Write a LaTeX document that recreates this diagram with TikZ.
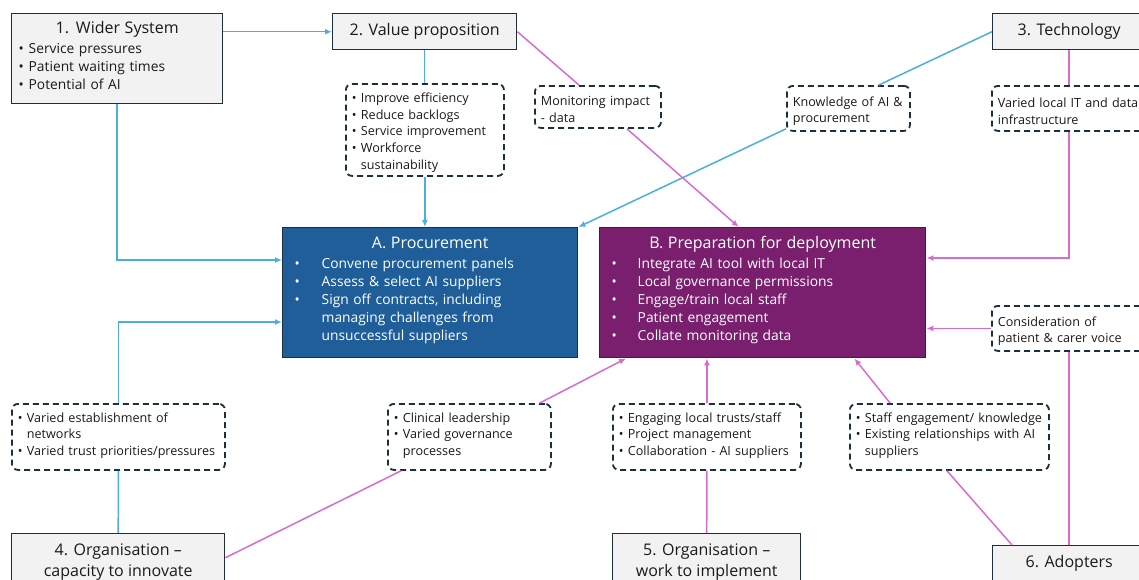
\documentclass[tikz,border=0pt]{standalone}
\usepackage{fontspec}
\setmainfont{Open Sans}
\usetikzlibrary{arrows.meta}

\definecolor{boxline}{HTML}{1B2F3E}
\definecolor{boxgray}{HTML}{F2F2F2}
\definecolor{procblue}{HTML}{1F5E99}
\definecolor{prepplum}{HTML}{7A1F6E}
\definecolor{skyline}{HTML}{4BAEE2}
\definecolor{pinkline}{HTML}{D86BD3}
\definecolor{inktext}{HTML}{1A1A1A}

\newcommand{\titlesize}{\fontsize{16}{20}\selectfont}
\newcommand{\bodysize}{\fontsize{13.8}{18}\selectfont}
\newcommand{\notesize}{\fontsize{12.6}{16.7}\selectfont}
% bullet in a fixed-width column, and a line that hangs under it
\newcommand{\bpoint}[2]{\makebox[#1][l]{\textbullet}#2}
\newcommand{\bcont}[2]{\hspace*{#1}#2}

\begin{document}
\begin{tikzpicture}[x=1pt,y=-1pt,
    sysbox/.style={draw=boxline,line width=1.4pt,fill=boxgray,text=inktext,
      anchor=north west,inner xsep=7pt,inner ysep=0pt},
    notebox/.style={draw=boxline,line width=1.8pt,dash pattern=on 6pt off 4pt,
      rounded corners=6pt,fill=white,text=inktext,anchor=north west,
      inner xsep=6pt,inner ysep=0pt,font=\notesize,align=left,text height=15pt},
    lownote/.style={notebox,minimum height=66pt,text height=7pt},
    stagebox/.style={draw=boxline,line width=1.4pt,text=white,font=\bodysize,
      align=left,anchor=north west,inner xsep=12pt,inner ysep=0pt,text height=6pt},
    blueflow/.style={skyline,line width=1.5pt},
    pinkflow/.style={pinkline,line width=1.5pt},
    flowtip/.style={-{Latex[length=7pt,width=6pt]}}]
    \useasboundingbox (0,0) rectangle (1139,579);
    % Factor boxes
    \node[sysbox,font=\bodysize,align=left,text height=6pt,minimum width=211pt,minimum height=90pt,text width=197pt] (wider) at (11,13)
        {\makebox[\hsize]{\titlesize 1. Wider System}\\[2pt]
         \bpoint{10pt}{Service pressures}\\
         \bpoint{10pt}{Patient waiting times}\\
         \bpoint{10pt}{Potential of AI}};
    \node[sysbox,font=\titlesize,minimum width=184pt,minimum height=36pt,align=center] (valprop) at (332,13)
        {2. Value proposition};
    \node[sysbox,font=\titlesize,minimum width=153pt,minimum height=36pt,align=center] (tech) at (992,13)
        {3. Technology};
    \node[sysbox,font=\fontsize{16}{21}\selectfont,minimum width=213pt,minimum height=56pt,align=center] (org4) at (11,533)
        {4. Organisation --\\capacity to innovate};
    \node[sysbox,font=\fontsize{16}{21}\selectfont,minimum width=188pt,minimum height=56pt,align=center] (org5) at (612,533)
        {5. Organisation --\\work to implement};
    \node[sysbox,font=\titlesize,minimum width=153pt,minimum height=36pt,align=center] (adopters) at (992,545)
        {6. Adopters};
    % Stages
    \node[stagebox,fill=procblue,minimum width=295pt,minimum height=130pt,text width=271pt] (procA) at (282,227)
        {\makebox[\hsize]{\titlesize A. Procurement}\\[2pt]
         \bpoint{27pt}{Convene procurement panels}\\
         \bpoint{27pt}{Assess \& select AI suppliers}\\
         \bpoint{27pt}{Sign off contracts, including}\\
         \bcont{27pt}{managing challenges from}\\
         \bcont{27pt}{unsuccessful suppliers}};
    \node[stagebox,fill=prepplum,minimum width=326pt,minimum height=130pt,text width=302pt] (procB) at (599,227)
        {\makebox[\hsize]{\titlesize B. Preparation for deployment}\\[2pt]
         \bpoint{26pt}{Integrate AI tool with local IT}\\
         \bpoint{26pt}{Local governance permissions}\\
         \bpoint{26pt}{Engage/train local staff}\\
         \bpoint{26pt}{Patient engagement}\\
         \bpoint{26pt}{Collate monitoring data}};
    % Notes on the links
    \node[notebox,minimum width=158pt,minimum height=92pt,text width=146pt] (vpnotes) at (345,83)
        {\bpoint{9pt}{Improve efficiency}\\
         \bpoint{9pt}{Reduce backlogs}\\
         \bpoint{9pt}{Service improvement}\\
         \bpoint{9pt}{Workforce}\\
         \bcont{9pt}{sustainability}};
    \node[notebox,minimum width=126pt,minimum height=42pt,text width=114pt] (monitor) at (534,85)
        {Monitoring impact\\- data};
    \node[notebox,minimum width=123pt,minimum height=45pt,text width=111pt] (knowledge) at (786,85)
        {Knowledge of AI \&\\procurement};
    \node[notebox,minimum width=154pt,minimum height=45pt,text width=142pt] (itinfra) at (991,85)
        {Varied local IT and data\\infrastructure};
    \node[notebox,minimum width=154pt,minimum height=45pt,text width=142pt] (patient) at (991,305)
        {Consideration of\\patient \& carer voice};
    \node[lownote,minimum width=213pt,text width=201pt] (establish) at (11,403)
        {\bpoint{9pt}{Varied establishment of}\\
         \bcont{9pt}{networks}\\
         \bpoint{9pt}{Varied trust priorities/pressures}};
    \node[lownote,minimum width=163pt,text width=151pt] (clinical) at (387,403)
        {\bpoint{9pt}{Clinical leadership}\\
         \bpoint{9pt}{Varied governance}\\
         \bcont{9pt}{processes}};
    \node[lownote,minimum width=188pt,text width=176pt] (engage) at (612,403)
        {\bpoint{9pt}{Engaging local trusts/staff}\\
         \bpoint{9pt}{Project management}\\
         \bpoint{9pt}{Collaboration - AI suppliers}};
    \node[lownote,minimum width=199pt,text width=187pt] (staff) at (849,403)
        {\bpoint{9pt}{Staff engagement/ knowledge}\\
         \bpoint{9pt}{Existing relationships with AI}\\
         \bcont{9pt}{suppliers}};
    % Links into procurement
    \draw[blueflow,flowtip] (wider.east |- valprop.west) -- (valprop.west);
    \draw[blueflow,flowtip] (wider.south) |- ([yshift=-33pt]procA.north west);
    \draw[blueflow] (valprop.south) -- (valprop.south |- vpnotes.north);
    \draw[blueflow,flowtip] (vpnotes.south) -- (vpnotes.south |- procA.north);
    \draw[blueflow] (tech.west) -- ([xshift=-32pt]knowledge.north east);
    \draw[blueflow,flowtip] ([yshift=3pt]knowledge.south west) -- (procA.north east);
    \draw[blueflow] (org4.north) -- (establish.south);
    \draw[blueflow,flowtip] (establish.north) |- ([yshift=-95pt]procA.north west);
    % Links into preparation
    \draw[pinkflow] (valprop.east) -- ([xshift=-19pt]monitor.north);
    \draw[pinkflow,flowtip] ([xshift=29pt]monitor.south) -- ([xshift=-24pt]procB.north);
    \draw[pinkflow] (tech.south) -- (tech.south |- itinfra.north);
    \draw[pinkflow,flowtip] (itinfra.south) |- ([yshift=-31pt]procB.north east);
    \draw[pinkflow] (adopters.north) -- (adopters.north |- patient.south);
    \draw[pinkflow,flowtip] (patient.west) -- (procB.east |- patient.west);
    \draw[pinkflow] ([xshift=20pt]adopters.north west) -- ([xshift=98pt]staff.south west);
    \draw[pinkflow,flowtip] ([xshift=41pt]staff.north west) -- ([xshift=-72pt]procB.south east);
    \draw[pinkflow] (org5.north) -- (engage.south);
    \draw[pinkflow,flowtip] (engage.north) -- (engage.north |- procB.south);
    \draw[pinkflow] ([yshift=4pt]org4.east) -- ([xshift=14pt]clinical.south west);
    \draw[pinkflow,flowtip] ([xshift=-12pt]clinical.north east) -- ([xshift=27pt]procB.south west);
\end{tikzpicture}
\end{document}
